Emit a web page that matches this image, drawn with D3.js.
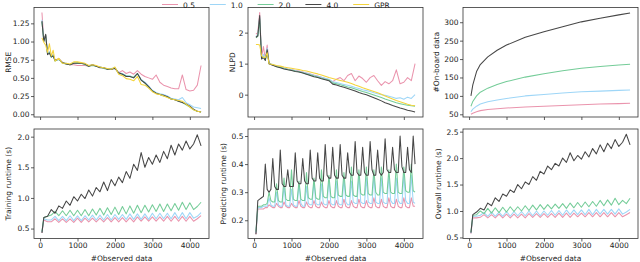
<!DOCTYPE html>
<html>
<head>
<meta charset="utf-8">
<script src="https://cdn.jsdelivr.net/npm/d3@7"></script>
<style>
  body { margin: 0; background: #fff; }
  svg { display: block; font-family: "DejaVu Sans", sans-serif; }
</style>
</head>
<body>
<div id="chart"></div>
<script>
// ---- data ----
const LEGEND = ["0.5", "1.0", "2.0", "4.0", "GPR"];
const COLORS = ["#ea94ad", "#9ed6f7", "#74cc98", "#474747", "#f4d43c"];
const X_TICKS = [0, 1000, 2000, 3000, 4000];

// x grid for accuracy panels
const X_ACC = [50,100,150,200,250,300,350,400,500,600,700,800,900,1000,
  1100,1200,1300,1400,1500,1600,1700,1800,1900,2000,2100,2200,2300,2400,2500,
  2600,2700,2800,2900,3000,3100,3200,3300,3400,3500,3600,3700,3800,3900,4000,
  4100,4200,4300];

const RMSE_05 = [1.40,1.02,1.09,0.84,0.86,0.80,0.82,0.75, 0.76,0.71,0.69,0.68,0.68,0.67,
  0.67,0.67,0.66,0.68,0.66,0.65,0.64,0.62,0.62,0.64, 0.57,0.60,0.56,0.58,0.55,0.60,0.55,0.52,0.50,0.48,
  0.54,0.44,0.40,0.38,0.36,0.35,0.35,0.54,0.34,0.32, 0.33,0.40,0.67];
const RMSE_10 = [1.30,1.02,1.08,0.84,0.86,0.79,0.82,0.74, 0.75,0.71,0.70,0.68,0.71,0.70,
  0.70,0.69,0.67,0.68,0.66,0.65,0.64,0.62,0.63,0.64, 0.57,0.56,0.53,0.53,0.50,0.56,0.48,0.44,0.39,0.33,
  0.30,0.28,0.27,0.25,0.22,0.21,0.20,0.23,0.16,0.13, 0.10,0.09,0.08];
const RMSE_20 = [1.27,1.01,1.09,0.83,0.85,0.78,0.81,0.73, 0.76,0.70,0.69,0.68,0.70,0.71,
  0.70,0.68,0.66,0.67,0.66,0.65,0.63,0.62,0.62,0.64, 0.56,0.55,0.53,0.52,0.51,0.56,0.47,0.43,0.37,0.32,
  0.29,0.27,0.25,0.24,0.21,0.20,0.18,0.16,0.13,0.10, 0.06,0.04,0.03];
const RMSE_40 = [1.28,1.00,1.10,0.82,0.84,0.79,0.80,0.74, 0.76,0.71,0.69,0.68,0.70,0.70,
  0.70,0.69,0.66,0.68,0.66,0.64,0.64,0.62,0.62,0.63, 0.57,0.55,0.52,0.52,0.50,0.56,0.47,0.43,0.38,0.32,
  0.29,0.27,0.26,0.24,0.21,0.20,0.18,0.16,0.14,0.11, 0.07,0.04,0.03];
const RMSE_GPR = [1.05,0.99,0.95,0.85,0.97,0.80,0.88,0.73, 0.77,0.70,0.70,0.69,0.72,0.72,
  0.71,0.70,0.67,0.68,0.67,0.65,0.64,0.63,0.62,0.65, 0.55,0.53,0.49,0.48,0.46,0.52,0.41,0.40,0.36,0.31,
  0.28,0.27,0.25,0.23,0.21,0.20,0.19,0.18,0.14,0.10, 0.06,0.04,0.03];

const NLPD_05 = [1.95,2.00,2.65,1.20,1.55,1.15,1.60,1.00, 0.96,0.92,0.89,0.86,0.83,0.81,
  0.78,0.76,0.73,0.70,0.67,0.63,0.60,0.56,0.52,0.48, 0.42,0.50,0.55,0.45,0.62,0.68,0.45,0.60,0.52,0.40,
  0.55,0.62,0.45,0.30,0.42,0.35,0.45,0.80,0.35,0.40, 0.55,0.45,1.00];
const NLPD_10 = [1.88,1.92,2.50,1.18,1.30,1.13,1.50,1.01, 0.97,0.92,0.89,0.85,0.82,0.80,
  0.77,0.75,0.72,0.69,0.66,0.62,0.59,0.56,0.53,0.50, 0.42,0.39,0.36,0.33,0.30,0.27,0.23,0.20,0.16,0.13,
  0.10,0.06,0.03,0.00,-0.02,-0.05,-0.08,-0.12,-0.10,-0.15, -0.08,-0.12,0.00];
const NLPD_20 = [1.83,1.88,2.45,1.17,1.22,1.12,1.42,1.00, 0.96,0.91,0.88,0.84,0.81,0.79,
  0.76,0.74,0.71,0.67,0.64,0.60,0.57,0.53,0.50,0.47, 0.38,0.35,0.32,0.29,0.25,0.22,0.18,0.14,0.10,0.07,
  0.03,-0.01,-0.05,-0.09,-0.14,-0.18,-0.22,-0.26,-0.29,-0.32, -0.34,-0.36,-0.37];
const NLPD_40 = [1.85,1.90,2.55,1.15,1.20,1.10,1.45,1.00, 0.95,0.90,0.87,0.83,0.80,0.78,
  0.75,0.73,0.70,0.66,0.62,0.58,0.55,0.51,0.48,0.45, 0.34,0.31,0.27,0.24,0.20,0.16,0.12,0.07,0.03,0.00,
  -0.05,-0.10,-0.15,-0.20,-0.26,-0.30,-0.35,-0.39,-0.43,-0.46, -0.50,-0.53,-0.56];
const NLPD_GPR = [1.62,1.62,1.60,1.25,1.20,1.20,1.35,1.00, 0.97,0.94,0.92,0.89,0.87,0.85,
  0.83,0.81,0.78,0.76,0.73,0.70,0.67,0.63,0.59,0.55, 0.52,0.49,0.46,0.43,0.40,0.36,0.31,0.27,0.22,0.18,
  0.14,0.10,0.06,0.01,-0.04,-0.09,-0.14,-0.19,-0.23,-0.27, -0.31,-0.34,-0.36];

// on-board data
const X_OB = [50,100,200,300,500,750,1000,1500,2000,2500,3000,3500,4000,4300];
const OB_05 = [50,53,57,60,63,65,67,70,72,74,76,78,79,80];
const OB_10 = [57,64,72,78,84,89,93,100,104,108,111,113,115,116];
const OB_20 = [72,85,100,110,121,131,139,151,160,168,175,180,184,186];
const OB_40 = [100,130,166,185,206,224,238,259,274,288,301,311,320,325];

// runtime grids
const X_RT100 = [50,100,200,300,400,500,600,700,800,900,1000,1100,1200,1300,1400,1500,
  1600,1700,1800,1900,2000,2100,2200,2300,2400,2500,2600,2700,2800,2900,3000,
  3100,3200,3300,3400,3500,3600,3700,3800,3900,4000,4100,4200,4300];
const X_RT50 = [50,100,150,200,250,300,350,400,450,500,550,600,650,700,750,800,850,900,950,1000,
  1050,1100,1150,1200,1250,1300,1350,1400,1450,1500,1550,1600,1650,1700,1750,1800,1850,1900,1950,2000,
  2050,2100,2150,2200,2250,2300,2350,2400,2450,2500,2550,2600,2650,2700,2750,2800,2850,2900,2950,3000,
  3050,3100,3150,3200,3250,3300,3350,3400,3450,3500,3550,3600,3650,3700,3750,3800,3850,3900,3950,4000,
  4050,4100,4150,4200,4250,4300];

const TRAIN_05 = [0.43,0.64,0.61,0.61,0.66,0.60,0.66,0.60,0.66,0.60,0.67,0.60,0.67,0.61,0.67,0.61,
  0.67,0.61,0.68,0.61,0.68,0.61,0.68,0.61,0.68,0.61,0.69,0.62,0.69,0.62,0.69,0.62,0.69,0.62,0.70,0.62,
  0.70,0.62,0.70,0.62,0.70,0.62,0.66,0.71];
const TRAIN_10 = [0.44,0.66,0.64,0.64,0.70,0.63,0.70,0.63,0.71,0.63,0.71,0.63,0.71,0.64,0.72,0.64,
  0.72,0.64,0.73,0.64,0.73,0.65,0.73,0.65,0.74,0.65,0.74,0.65,0.74,0.65,0.75,0.66,0.75,0.66,0.75,0.66,
  0.76,0.66,0.76,0.66,0.76,0.67,0.70,0.76];
const TRAIN_20 = [0.45,0.68,0.70,0.72,0.78,0.71,0.79,0.71,0.80,0.71,0.80,0.71,0.81,0.71,0.82,0.72,
  0.83,0.72,0.84,0.73,0.85,0.73,0.86,0.74,0.87,0.75,0.88,0.76,0.88,0.77,0.89,0.78,0.90,0.78,0.90,0.79,
  0.91,0.80,0.93,0.81,0.92,0.81,0.86,0.93];
const TRAIN_40 = [0.43,0.68,0.70,0.81,0.75,0.87,0.83,0.95,0.88,1.02,0.95,1.06,0.99,1.13,1.03,1.17,
  1.10,1.26,1.12,1.30,1.20,1.34,1.25,1.43,1.32,1.55,1.45,1.74,1.50,1.66,1.55,1.70,1.58,1.76,1.64,1.86,
  1.70,1.88,1.78,1.93,1.80,1.88,2.03,1.85];

const PRED_05 = [0.15,0.24,0.24,0.24,0.24,0.245,0.245,
  0.255,0.25,0.245,0.245, 0.26,0.25,0.245,0.245, 0.265,0.25,0.245,0.245, 0.26,0.25,0.245,0.245,
  0.27,0.25,0.245,0.245, 0.265,0.25,0.245,0.245, 0.27,0.25,0.245,0.245, 0.265,0.25,0.245,0.245,
  0.27,0.25,0.245,0.245, 0.27,0.25,0.245,0.245, 0.275,0.25,0.245,0.245, 0.27,0.25,0.245,0.245,
  0.275,0.25,0.245,0.245, 0.27,0.25,0.245,0.245, 0.28,0.25,0.245,0.245, 0.275,0.25,0.245,0.245,
  0.28,0.25,0.245,0.245, 0.275,0.25,0.245,0.245, 0.28,0.25,0.245,0.245, 0.28,0.25,0.25];
const PRED_10 = [0.155,0.245,0.245,0.245,0.25,0.25,0.25,
  0.28,0.255,0.25,0.25, 0.30,0.255,0.25,0.25, 0.32,0.255,0.25,0.25, 0.31,0.255,0.25,0.25,
  0.33,0.26,0.25,0.25, 0.32,0.26,0.255,0.255, 0.34,0.26,0.255,0.255, 0.33,0.26,0.255,0.255,
  0.35,0.26,0.255,0.255, 0.34,0.26,0.255,0.255, 0.35,0.265,0.255,0.255, 0.34,0.265,0.26,0.26,
  0.36,0.265,0.26,0.26, 0.35,0.265,0.26,0.26, 0.36,0.265,0.26,0.26, 0.35,0.265,0.26,0.26,
  0.36,0.27,0.26,0.26, 0.35,0.27,0.26,0.26, 0.36,0.27,0.26,0.26, 0.36,0.265,0.26];
const PRED_20 = [0.16,0.25,0.25,0.25,0.255,0.255,0.26,
  0.30,0.27,0.265,0.265, 0.33,0.27,0.265,0.265, 0.35,0.275,0.27,0.27, 0.38,0.275,0.27,0.27,
  0.34,0.275,0.27,0.27, 0.37,0.28,0.275,0.275, 0.35,0.28,0.275,0.275, 0.38,0.285,0.28,0.28,
  0.36,0.285,0.28,0.28, 0.38,0.29,0.285,0.285, 0.37,0.29,0.285,0.285, 0.39,0.29,0.285,0.285,
  0.38,0.295,0.29,0.29, 0.39,0.295,0.29,0.29, 0.38,0.30,0.29,0.29, 0.39,0.30,0.295,0.295,
  0.38,0.30,0.295,0.295, 0.40,0.30,0.295,0.295, 0.39,0.305,0.30,0.30, 0.40,0.305,0.30];
const PRED_40 = [0.15,0.27,0.275,0.28,0.285,
  0.40,0.31,0.30,0.31, 0.42,0.32,0.31,0.31, 0.45,0.33,0.32,0.32, 0.38,0.32,0.32,0.32,
  0.44,0.34,0.33,0.33, 0.42,0.34,0.33,0.33, 0.45,0.35,0.34,0.34, 0.44,0.35,0.34,0.34,
  0.47,0.36,0.35,0.35, 0.46,0.36,0.35,0.35, 0.47,0.36,0.35,0.35, 0.44,0.37,0.36,0.36,
  0.48,0.37,0.36,0.36, 0.46,0.37,0.36,0.36, 0.48,0.38,0.36,0.36, 0.45,0.37,0.36,0.37,
  0.49,0.38,0.37,0.37, 0.46,0.38,0.37,0.37, 0.50,0.39,0.37,0.37, 0.46,0.38,0.37,0.50, 0.40];

const ALL_05 = [0.57,0.87,0.87,0.88,0.93,0.87,0.93,0.87,0.94,0.87,0.94,0.87,0.94,0.87,0.94,0.87,
  0.95,0.88,0.95,0.88,0.95,0.88,0.95,0.88,0.96,0.88,0.96,0.88,0.96,0.89,0.96,0.89,0.97,0.89,0.97,0.89,
  0.97,0.89,0.97,0.89,0.97,0.89,0.93,0.97];
const ALL_10 = [0.58,0.90,0.90,0.92,0.97,0.90,0.98,0.90,0.98,0.90,0.99,0.90,0.99,0.91,0.99,0.91,
  1.00,0.91,1.00,0.91,1.00,0.92,1.01,0.92,1.01,0.92,1.02,0.93,1.02,0.93,1.02,0.93,1.03,0.93,1.03,0.94,
  1.03,0.94,1.03,0.94,1.04,0.94,0.98,1.03];
const ALL_20 = [0.60,0.92,0.93,1.00,0.95,1.05,0.96,1.06,0.97,1.07,0.98,1.08,0.99,1.08,1.00,1.10,
  1.01,1.11,1.02,1.12,1.03,1.12,1.04,1.13,1.05,1.14,1.05,1.15,1.06,1.16,1.07,1.17,1.08,1.18,1.09,1.20,
  1.10,1.21,1.11,1.24,1.12,1.20,1.14,1.24];
const ALL_40 = [0.59,0.93,0.98,1.05,1.02,1.15,1.10,1.25,1.18,1.32,1.28,1.40,1.35,1.50,1.42,1.55,
  1.50,1.65,1.58,1.75,1.70,1.85,1.78,1.90,1.85,2.00,1.92,2.10,1.95,2.05,1.98,2.12,2.02,2.18,2.08,2.25,
  2.12,2.28,2.18,2.35,2.22,2.30,2.45,2.25];

// ---- layout ----
const W = 640, H = 262;
const COLS = [34, 248, 463], PW = 175;
const ROWS = [[7.5, 117], [129, 238.5]];
const X_DOMAIN = [-162, 4512];
const FS = 7.5;

const svg = d3.select("#chart").append("svg")
  .attr("width", W).attr("height", H).attr("viewBox", [0, 0, W, H]);

function panel(col, row, opt) {
  const x0 = COLS[col], [y0, y1] = ROWS[row];
  const x = d3.scaleLinear().domain(X_DOMAIN).range([x0, x0 + PW]);
  const y = d3.scaleLinear().domain(opt.yDomain).range([y1, y0]);
  const g = svg.append("g");
  const clipId = `clip-${col}-${row}`;
  g.append("clipPath").attr("id", clipId).append("rect")
    .attr("x", x0).attr("y", y0).attr("width", PW).attr("height", y1 - y0);

  const lines = g.append("g").attr("clip-path", `url(#${clipId})`);
  opt.series.forEach(s => {
    lines.append("path")
      .datum(s.v)
      .attr("fill", "none")
      .attr("stroke", s.c)
      .attr("stroke-width", 1.05)
      .attr("stroke-linejoin", "round")
      .attr("d", d3.line().x((d, i) => x(s.x[i])).y(d => y(d)));
  });

  // axes
  const xa = g.append("g").attr("transform", `translate(0,${y1})`)
    .call(d3.axisBottom(x).tickValues(X_TICKS).tickSize(3).tickPadding(1.5)
      .tickFormat(row === 1 ? d3.format("d") : ""));
  const ya = g.append("g").attr("transform", `translate(${x0},0)`)
    .call(d3.axisLeft(y).tickValues(opt.yTicks).tickSize(3).tickPadding(1.5)
      .tickFormat(d3.format(opt.yFmt)));
  [xa, ya].forEach(a => {
    a.select(".domain").remove();
    a.selectAll("line").attr("stroke", "#333").attr("stroke-width", 0.8);
    a.selectAll("text").attr("fill", "#222").style("font-size", FS + "px")
      .style("font-family", "DejaVu Sans");
  });

  g.append("rect").attr("x", x0).attr("y", y0).attr("width", PW).attr("height", y1 - y0)
    .attr("fill", "none").attr("stroke", "#333").attr("stroke-width", 0.8);

  const cy = (y0 + y1) / 2, cx = x0 - opt.labelDx;
  g.append("text").attr("x", cx).attr("y", cy).attr("dy", "0.35em")
    .attr("transform", `rotate(-90,${cx},${cy})`)
    .attr("text-anchor", "middle").attr("fill", "#222").style("font-size", FS + "px")
    .text(opt.label);

  if (row === 1) {
    g.append("text").attr("x", x0 + PW / 2).attr("y", 260.5)
      .attr("text-anchor", "middle").attr("fill", "#222").style("font-size", FS + "px")
      .text("#Observed data");
  }
}

panel(0, 0, {
  yDomain: [-0.038, 1.468], yTicks: [0, 0.25, 0.5, 0.75, 1.0, 1.25], yFmt: ".2f",
  label: "RMSE", labelDx: 26,
  series: [RMSE_05, RMSE_10, RMSE_20, RMSE_40, RMSE_GPR].map((v, i) => ({ x: X_ACC, v, c: COLORS[i] }))
});
panel(1, 0, {
  yDomain: [-0.72, 2.81], yTicks: [0, 1, 2], yFmt: "d",
  label: "NLPD", labelDx: 16,
  series: [NLPD_05, NLPD_10, NLPD_20, NLPD_40, NLPD_GPR].map((v, i) => ({ x: X_ACC, v, c: COLORS[i] }))
});
panel(2, 0, {
  yDomain: [42.7, 340], yTicks: [50, 100, 150, 200, 250, 300], yFmt: "d",
  label: "#On-board data", labelDx: 27,
  series: [OB_05, OB_10, OB_20, OB_40].map((v, i) => ({ x: X_OB, v, c: COLORS[i] }))
});
panel(0, 1, {
  yDomain: [0.338, 2.125], yTicks: [0.5, 1.0, 1.5, 2.0], yFmt: ".1f",
  label: "Training runtime (s)", labelDx: 25.5,
  series: [TRAIN_05, TRAIN_10, TRAIN_20, TRAIN_40].map((v, i) => ({ x: X_RT100, v, c: COLORS[i] }))
});
panel(1, 1, {
  yDomain: [0.135, 0.525], yTicks: [0.2, 0.3, 0.4, 0.5], yFmt: ".1f",
  label: "Predicting runtime (s)", labelDx: 25,
  series: [PRED_05, PRED_10, PRED_20, PRED_40].map((v, i) => ({ x: X_RT50, v, c: COLORS[i] }))
});
panel(2, 1, {
  yDomain: [0.48, 2.55], yTicks: [0.5, 1.0, 1.5, 2.0, 2.5], yFmt: ".1f",
  label: "Overall runtime (s)", labelDx: 25,
  series: [ALL_05, ALL_10, ALL_20, ALL_40].map((v, i) => ({ x: X_RT100, v, c: COLORS[i] }))
});

// legend across the top
const legend = svg.append("g");
LEGEND.forEach((name, i) => {
  const lx = 162 + i * 47.8;
  legend.append("line").attr("x1", lx).attr("x2", lx + 16).attr("y1", 4.5).attr("y2", 4.5)
    .attr("stroke", COLORS[i]).attr("stroke-width", 1);
  legend.append("text").attr("x", lx + 21).attr("y", 8)
    .attr("fill", "#222").style("font-size", FS + "px").text(name);
});
</script>
</body>
</html>
